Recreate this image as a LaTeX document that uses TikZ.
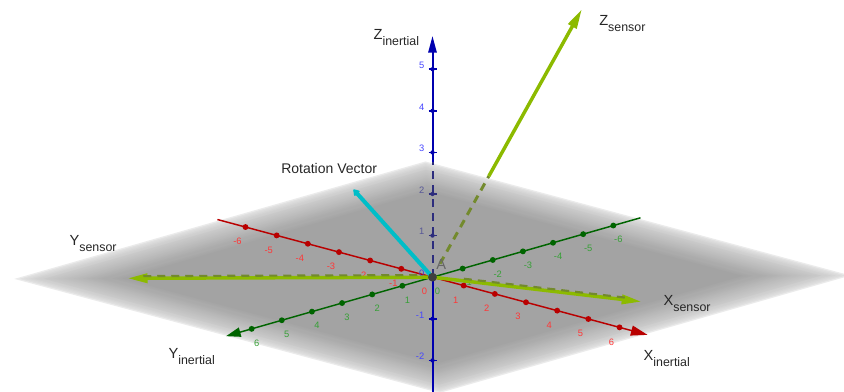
\documentclass[tikz,border=0pt]{standalone}
\usepackage{fontspec}
\setmainfont{Liberation Sans}
\usepackage{xcolor}
\usepackage{tikz}
\usetikzlibrary{arrows.meta,calc}

\definecolor{xred}{RGB}{185,0,0}
\definecolor{xredlbl}{RGB}{255,55,55}
\definecolor{ygreen}{RGB}{0,100,0}
\definecolor{ygreenlbl}{RGB}{55,160,55}
\definecolor{zblue}{RGB}{0,0,175}
\definecolor{zbluelbl}{RGB}{70,70,255}
\definecolor{zdim}{RGB}{45,45,125}
\definecolor{lime}{RGB}{140,186,0}
\definecolor{olivedash}{RGB}{115,138,45}
\definecolor{rotcyan}{RGB}{0,190,200}

\newcommand{\axname}[2]{#1\raisebox{-4.5pt}{\fontsize{9.3}{10}\selectfont #2}}

\tikzset{
  axlabel/.style={anchor=base west, inner sep=0pt, font=\fontsize{11}{12}\selectfont, text=black!85},
  ticklbl/.style={inner sep=0pt, font=\fontsize{7}{8}\selectfont},
  sensorvec/.style={lime, line width=2.6pt, -{Triangle[length=15pt,width=6.8pt]}},
  hiddenvec/.style={olivedash, line width=2.2pt, dash pattern=on 6pt off 4.5pt},
}

\begin{document}
\begin{tikzpicture}[x=0.75pt, y=-0.75pt]
  \useasboundingbox (0,0) rectangle (844,392);
  \clip (0,0) rectangle (844,392);

  % Plane (fading to white at its edges)
  \foreach \k [evaluate=\k as \r using {6.9-0.08*\k}, evaluate=\k as \c using {int(36*(\k/23)^0.45)}] in {0,...,23}
    \fill[black!\c] ({432.5+61.31*\r},{277.2-0.25*\r}) -- ({432.5+1.03*\r},{277.2+16.97*\r})
      -- ({432.5-61.31*\r},{277.2+0.25*\r}) -- ({432.5-1.03*\r},{277.2-16.97*\r}) -- cycle;

  \coordinate (O) at (432.5,277.2);

  % Z inertial, part behind the plane
  \coordinate (zedge) at (432.5,162);
  \draw[zdim, line width=1.5pt, dash pattern=on 6pt off 4.5pt] (O) -- (zedge);

  % Z sensor, part behind the plane
  \coordinate (zs) at (582,9);
  \coordinate (zsedge) at ($(O)!0.377!(zs)$);
  \draw[hiddenvec] ($(O)!0.05!(zs)$) -- (zsedge);

  % X inertial (red)
  \coordinate (xneg) at ({432.5-31.17*6.9},{277.2-8.36*6.9});
  \coordinate (xpos) at ({432.5+31.17*6.9},{277.2+8.36*6.9});
  \draw[xred, line width=1.1pt, -{Triangle[length=12.5pt,width=7.5pt]}] (xneg) -- (xpos);
  \foreach \i in {-6,...,-1,1,2,...,6}
    \fill[xred] ({432.5+31.17*\i},{277.2+8.36*\i}) circle (2.2pt);
  \foreach \i in {-6,...,6}
    \node[ticklbl, text=xredlbl] (xl\i) at ({424.5+31.17*\i},{291.7+8.36*\i}) {\i};

  % Y inertial (green)
  \coordinate (yneg) at ({432.5+30.14*6.9},{277.2-8.61*6.9});
  \coordinate (ypos) at ({432.5-30.14*6.85},{277.2+8.61*6.85});
  \draw[ygreen, line width=1.1pt, -{Triangle[length=11pt,width=7pt]}] (yneg) -- (ypos);
  \foreach \i in {-6,...,-1,1,2,...,6}
    \fill[ygreen] ({432.5-30.14*\i},{277.2+8.61*\i}) circle (2.2pt);
  \foreach \i in {-6,...,6}
    \node[ticklbl, text=ygreenlbl] (yl\i) at ({437.5-30.14*\i},{291.2+8.61*\i}) {\i};

  % Z inertial (blue)
  \coordinate (zbot) at (432.5,400);
  \coordinate (ztop) at (432.5,36);
  \draw[zblue, line width=1.5pt] (O) -- (zbot);
  \draw[zblue, line width=1.5pt, -{Triangle[length=12.5pt,width=6.2pt]}] (zedge) -- (ztop);
  \foreach \i in {-2,-1,3,4,5} {
    \draw[zblue, line width=1.2pt] (428.5,{277.2-41.6*\i}) -- (436.5,{277.2-41.6*\i});
    \fill[zblue] (432.5,{277.2-41.6*\i}) circle (1.6pt);
    \node[ticklbl, anchor=east, text=zbluelbl] (zl\i) at (424.5,{273.2-41.6*\i}) {\i};
  }
  \foreach \i in {1,2} {
    \draw[zdim, line width=1.2pt] (428.5,{277.2-41.6*\i}) -- (436.5,{277.2-41.6*\i});
    \fill[zdim] (432.5,{277.2-41.6*\i}) circle (1.6pt);
    \node[ticklbl, anchor=east, text=zdim!80!white] (zl\i) at (424.5,{273.2-41.6*\i}) {\i};
  }
  \node[ticklbl, anchor=east, text=zbluelbl!70!zdim] (zl0) at (424.5,273.2) {0};

  % Sensor axes
  \coordinate (xs) at (641.7,301.7);
  \coordinate (ys) at (127.5,278.3);
  \draw[sensorvec] (zsedge) -- (zs);
  \draw[sensorvec] (O) -- (xs);
  \draw[sensorvec] (O) -- (ys);
  \draw[hiddenvec, line width=1.6pt, transform canvas={yshift=1.6pt}] ($(O)!0.15!(xs)$) -- ($(O)!0.93!(xs)$);
  \draw[hiddenvec, line width=1.6pt, transform canvas={yshift=1.6pt}] ($(O)!0.05!(ys)$) -- ($(O)!0.95!(ys)$);

  % Rotation vector
  \coordinate (rv) at (353.5,189.5);
  \draw[rotcyan, line width=3pt, -{Triangle[length=5pt,width=6pt,round]}] (O) -- (rv);

  % Origin
  \fill[black!75] (O) circle (3.3pt);
  \node[inner sep=0pt, font=\fontsize{11}{12}\selectfont, text=black!60] (A) at (441.3,264.7) {A};

  % Labels
  \node[axlabel] (zilbl) at (373.3,40) {\axname{Z}{inertial}};
  \node[axlabel] (zslbl) at (599,26) {\axname{Z}{sensor}};
  \node[axlabel] (yslbl) at (69.3,245.7) {\axname{Y}{sensor}};
  \node[axlabel] (xslbl) at (663.3,306) {\axname{X}{sensor}};
  \node[axlabel] (xilbl) at (643.3,361) {\axname{X}{inertial}};
  \node[axlabel] (yilbl) at (168.3,358.3) {\axname{Y}{inertial}};
  \node[axlabel, font=\fontsize{10.5}{12}\selectfont] (rotlbl) at (281,174) {Rotation Vector};
\end{tikzpicture}
\end{document}
